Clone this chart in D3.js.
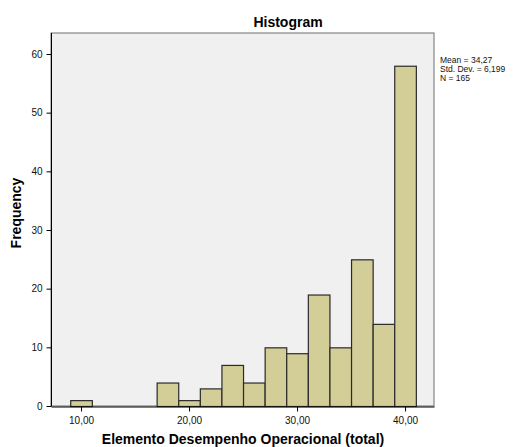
<!DOCTYPE html>
<html>
<head>
<meta charset="utf-8">
<script src="https://cdn.jsdelivr.net/npm/d3@7"></script>
<style>
  body { margin: 0; background: #fff; }
  svg { display: block; font-family: Arial, "Liberation Sans", sans-serif; }
</style>
</head>
<body>
<svg id="chart" width="519" height="447"></svg>
<script>
// Histogram bins (lower edge, upper edge) and counts
const binStarts = [9, 17, 19, 21, 23, 25, 27, 29, 31, 33, 35, 37, 39];
const binWidth = 2;
const counts = [1, 4, 1, 3, 7, 4, 10, 9, 19, 10, 25, 14, 58];
const xTicks = [10, 20, 30, 40];
const yTicks = [0, 10, 20, 30, 40, 50, 60];
const statLines = ["Mean = 34,27", "Std. Dev. = 6,199", "N = 165"];

const svg = d3.select("#chart");
const plot = { left: 51, top: 33, right: 434, bottom: 406 };

const x = d3.scaleLinear().domain([7.22, 42.68]).range([plot.left, plot.right]);
const y = d3.scaleLinear().domain([0, 60]).range([plot.bottom, 54]);

// plot background
svg.append("rect")
  .attr("x", plot.left).attr("y", plot.top)
  .attr("width", plot.right - plot.left).attr("height", plot.bottom - plot.top)
  .attr("fill", "#f0f0f0")
  .attr("stroke", "#6e6e6e").attr("stroke-width", 1);

// bars
svg.append("g").selectAll("rect")
  .data(binStarts.map((s, i) => ({ s, c: counts[i] })))
  .join("rect")
  .attr("x", d => x(d.s) + 0.5)
  .attr("y", d => y(d.c) + 0.5)
  .attr("width", d => x(d.s + binWidth) - x(d.s))
  .attr("height", d => y(0) - y(d.c))
  .attr("fill", "#d3ce97")
  .attr("stroke", "#2a2a2a").attr("stroke-width", 1.2);

const fmt = d => d3.format(".2f")(d).replace(".", ",");

// x axis
const gx = svg.append("g")
  .attr("transform", `translate(0,${plot.bottom + 0.5})`)
  .call(d3.axisBottom(x).tickValues(xTicks).tickFormat(fmt).tickSize(5).tickSizeOuter(0));
gx.select(".domain").attr("stroke", "#000");
gx.selectAll("text").attr("font-size", 10).attr("fill", "#111").attr("dy", "0.9em");

// y axis
const gy = svg.append("g")
  .attr("transform", `translate(${plot.left + 0.5},0)`)
  .call(d3.axisLeft(y).tickValues(yTicks).tickFormat(d3.format("d")).tickSize(5).tickSizeOuter(0));
gy.select(".domain").attr("stroke", "#000").attr("d", `M0,${plot.top}V${plot.bottom}`);
gy.selectAll("text").attr("font-size", 10).attr("fill", "#111").attr("dx", "-0.1em");

// title
svg.append("text")
  .attr("x", 288).attr("y", 27)
  .attr("text-anchor", "middle")
  .attr("font-size", 14).attr("font-weight", "bold")
  .text("Histogram");

// axis titles
svg.append("text")
  .attr("x", 243).attr("y", 444)
  .attr("text-anchor", "middle")
  .attr("font-size", 14).attr("font-weight", "bold")
  .text("Elemento Desempenho Operacional (total)");

svg.append("text")
  .attr("transform", "translate(21,213) rotate(-90)")
  .attr("text-anchor", "middle")
  .attr("font-size", 14).attr("font-weight", "bold")
  .text("Frequency");

// summary statistics
svg.append("g").selectAll("text")
  .data(statLines)
  .join("text")
  .attr("x", 440)
  .attr("y", (d, i) => 63 + i * 9)
  .attr("font-size", 8.5)
  .attr("fill", "#111")
  .text(d => d);
</script>
</body>
</html>
